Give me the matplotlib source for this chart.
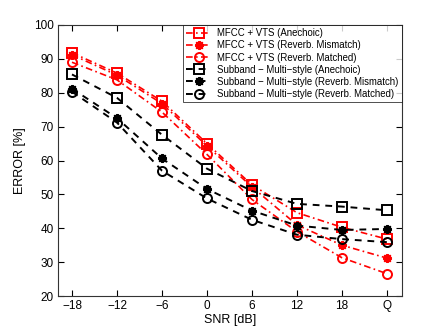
import numpy as np
import matplotlib.pyplot as plt

plt.rcParams['font.family'] = ['Liberation Sans', 'DejaVu Sans']

# x positions are category indices, labels below
snr_labels = ['\u221218', '\u221212', '\u22126', '0', '6', '12', '18', 'Q']

mfcc_anechoic = [91.8, 85.8, 77.5, 65.0, 52.8, 44.6, 40.3, 36.8]
mfcc_mismatch = [91.2, 85.2, 76.8, 64.3, 52.2, 41.0, 35.0, 31.2]
mfcc_matched = [89.0, 83.8, 74.3, 61.8, 48.5, 39.0, 31.3, 26.6]
sub_anechoic = [85.4, 78.5, 67.6, 57.6, 51.0, 47.2, 46.4, 45.3]
sub_mismatch = [81.2, 72.5, 60.6, 51.6, 45.2, 40.8, 39.5, 39.8]
sub_matched = [80.3, 71.2, 57.0, 48.8, 42.5, 38.1, 36.8, 35.9]

x = np.arange(len(snr_labels))
asterisk = (8, 2, 0)

fig = plt.figure(figsize=(4.43, 3.33), dpi=100)
ax = fig.add_axes([0.131, 0.111, 0.776, 0.814])

red = dict(color='red', linestyle='-.', linewidth=1.2, markersize=6.5,
           markerfacecolor='none', markeredgewidth=1.4, dashes=(4, 2, 1, 2))
blk = dict(color='black', linestyle='--', linewidth=1.4, markersize=6.5,
           markerfacecolor='none', markeredgewidth=1.4, dashes=(3.5, 3))

ax.plot(x, mfcc_anechoic, marker='s', label='MFCC + VTS (Anechoic)', **red)
ax.plot(x, mfcc_mismatch, marker=asterisk, label='MFCC + VTS (Reverb. Mismatch)', **red)
ax.plot(x, mfcc_matched, marker='o', label='MFCC + VTS (Reverb. Matched)', **red)
ax.plot(x, sub_anechoic, marker='s', label='Subband \u2212 Multi\u2212style (Anechoic)', **blk)
ax.plot(x, sub_mismatch, marker=asterisk, label='Subband \u2212 Multi\u2212style (Reverb. Mismatch)', **blk)
ax.plot(x, sub_matched, marker='o', label='Subband \u2212 Multi\u2212style (Reverb. Matched)', **blk)

ax.set_xlim(-0.31, 7.33)
ax.set_ylim(20, 100)
ax.set_xticks(x)
ax.set_xticklabels(snr_labels)
ax.set_yticks(np.arange(20, 101, 10))
ax.tick_params(direction='in', top=True, right=True, labelsize=8.5, length=4, pad=3)
for s in ax.spines.values():
    s.set_linewidth(0.8)
    s.set_color('#333333')
ax.set_xlabel('SNR [dB]', fontsize=9, labelpad=1)
ax.set_ylabel('ERROR [%]', fontsize=9, labelpad=6)

leg = ax.legend(loc='upper right', fontsize=6.9, handlelength=2.6, handletextpad=0.6,
                borderpad=0.35, labelspacing=0.22, borderaxespad=0.0, fancybox=False)
leg.get_frame().set_edgecolor('black')
leg.get_frame().set_linewidth(0.6)

fig.savefig('out.png', dpi=100)
